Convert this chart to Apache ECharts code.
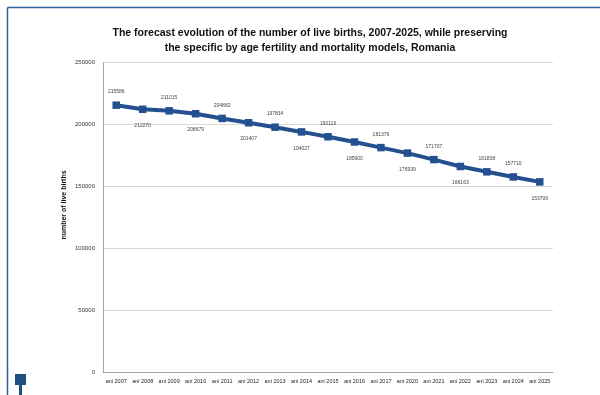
<!DOCTYPE html>
<html>
<head>
<meta charset="utf-8">
<script src="https://cdn.jsdelivr.net/npm/echarts@6/dist/echarts.min.js"></script>
<style>
html,body{margin:0;padding:0;background:#fff;}
#chart{width:600px;height:395px;}
</style>
</head>
<body>
<div id="chart"></div>
<script>
const titleText = 'The forecast evolution of the number of live births, 2007-2025, while preserving\nthe specific by age fertility and mortality models, Romania';
const yAxisTitle = 'number of live births';
const categories = ['ani 2007','ani 2008','ani 2009','ani 2010','ani 2011','ani 2012','ani 2013','ani 2014','ani 2015','ani 2016','ani 2017','ani 2020','ani 2021','ani 2022','ani 2023','ani 2024','ani 2025'];
const liveBirths = [215586,212270,211015,208679,204882,201407,197834,194027,190116,185900,181376,176939,171707,166163,161838,157710,153709];
const yTicks = [0,50000,100000,150000,200000,250000];

const BLUE = '#24508f';
const chart = echarts.init(document.getElementById('chart'), null, {renderer:'canvas'});

const lastIndex = liveBirths.length - 1;
const seriesData = liveBirths.map((v, i) => {
  const above = ((i % 2 === 0) || i === lastIndex - 1) && i !== lastIndex;
  return {
    value: v,
    label: above ? {position:'top', distance:7} : {position:'bottom', distance:10}
  };
});

chart.setOption({
  animation: false,
  backgroundColor: '#fff',
  title: {
    text: titleText,
    left: 305, top: 21, textAlign: 'center',
    textStyle: {fontFamily:'Liberation Sans', fontSize: 10.5, fontWeight:'bold', color:'#111', lineHeight: 15}
  },
  grid: {left: 103, right: 47, top: 62.5, bottom: 22.5, containLabel: false},
  xAxis: {
    type: 'category',
    data: categories,
    boundaryGap: true,
    axisLine: {show:true, lineStyle:{color:'#a6a6a6', width:1}},
    axisTick: {show:false},
    axisLabel: {fontFamily:'Liberation Sans', fontSize: 5.5, color:'#222', margin: 6, interval: 0}
  },
  yAxis: {
    type: 'value',
    min: yTicks[0], max: yTicks[yTicks.length-1], interval: yTicks[1]-yTicks[0],
    axisLine: {show:true, lineStyle:{color:'#a6a6a6', width:1}},
    axisTick: {show:false},
    splitLine: {show:true, lineStyle:{color:'#d9d9d9', width:1}},
    axisLabel: {fontFamily:'Liberation Sans', fontSize: 6, color:'#333', margin: 8, formatter: v => String(v)}
  },
  graphic: [
    {type:'line', shape:{x1:7.5, y1:7.5, x2:600, y2:7.5}, style:{stroke:'#2f5f9e', lineWidth:1.5}, silent:true},
    {type:'line', shape:{x1:7.5, y1:7.5, x2:7.5, y2:395}, style:{stroke:'#2f5f9e', lineWidth:1.5}, silent:true},
    {type:'rect', shape:{x:15, y:374, width:11, height:11}, style:{fill:'#1f4e82'}, silent:true},
    {type:'rect', shape:{x:19, y:384, width:3, height:11}, style:{fill:'#1f4e82'}, silent:true},
    {type:'text', x:64, y:205, rotation: Math.PI/2,
     style:{text: yAxisTitle, fontFamily:'Liberation Sans', fontSize:7, fontWeight:'bold', fill:'#111', align:'center', verticalAlign:'middle'}}
  ],
  series: [{
    type: 'line',
    data: seriesData,
    symbol: 'rect',
    symbolSize: 7.5,
    lineStyle: {color: BLUE, width: 4},
    itemStyle: {color: BLUE},
    label: {show: true, fontFamily:'Liberation Sans', fontSize: 5, color:'#444'}
  }]
});
</script>
</body>
</html>
